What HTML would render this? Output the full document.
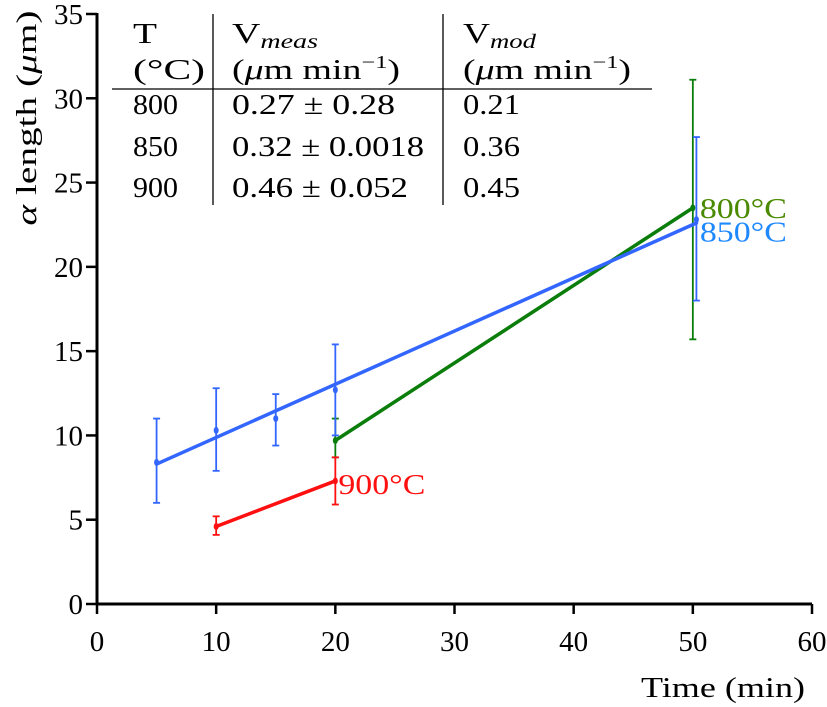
<!DOCTYPE html>
<html><head><meta charset="utf-8"><style>
html,body{margin:0;padding:0;background:#fff;}
svg{display:block;font-family:"Liberation Serif",serif;}
</style></head><body>
<svg id="chart" width="827" height="707">
  <g id="axes"></g>
  <g id="marks"></g>
  <g font-size="28" fill="#000">
    <line x1="213" y1="14" x2="213" y2="205" stroke="#000" stroke-width="1.3"/>
    <line x1="443" y1="14" x2="443" y2="205" stroke="#000" stroke-width="1.3"/>
    <line x1="112" y1="89" x2="652" y2="89" stroke="#000" stroke-width="1.3"/>
    <text x="133" y="43" textLength="24" lengthAdjust="spacingAndGlyphs">T</text>
    <text x="133" y="79" textLength="72" lengthAdjust="spacingAndGlyphs">(°C)</text>
    <text x="232" y="43" textLength="86" lengthAdjust="spacingAndGlyphs">V<tspan font-style="italic" font-size="20" dy="5">meas</tspan></text>
    <text x="232" y="79" textLength="168" lengthAdjust="spacingAndGlyphs">(<tspan font-style="italic">μ</tspan>m min<tspan font-size="18" dy="-11">−1</tspan><tspan dy="11">)</tspan></text>
    <text x="463" y="43" textLength="73" lengthAdjust="spacingAndGlyphs">V<tspan font-style="italic" font-size="20" dy="5">mod</tspan></text>
    <text x="463" y="79" textLength="168" lengthAdjust="spacingAndGlyphs">(<tspan font-style="italic">μ</tspan>m min<tspan font-size="18" dy="-11">−1</tspan><tspan dy="11">)</tspan></text>
    <text x="133" y="114" textLength="45" lengthAdjust="spacingAndGlyphs">800</text>
    <text x="232" y="114" textLength="163" lengthAdjust="spacingAndGlyphs">0.27 ± 0.28</text>
    <text x="463" y="114" textLength="57" lengthAdjust="spacingAndGlyphs">0.21</text>
    <text x="133" y="156" textLength="45" lengthAdjust="spacingAndGlyphs">850</text>
    <text x="232" y="156" textLength="192" lengthAdjust="spacingAndGlyphs">0.32 ± 0.0018</text>
    <text x="463" y="156" textLength="57" lengthAdjust="spacingAndGlyphs">0.36</text>
    <text x="133" y="197" textLength="45" lengthAdjust="spacingAndGlyphs">900</text>
    <text x="232" y="197" textLength="176" lengthAdjust="spacingAndGlyphs">0.46 ± 0.052</text>
    <text x="463" y="197" textLength="57" lengthAdjust="spacingAndGlyphs">0.45</text>
  </g>
  <text x="641" y="697" textLength="164" lengthAdjust="spacingAndGlyphs" font-size="29">Time (min)</text>
  <text transform="translate(36,118) rotate(-90)" text-anchor="middle" font-size="29" textLength="215" lengthAdjust="spacingAndGlyphs"><tspan font-style="italic">α</tspan> length (<tspan font-style="italic">μ</tspan>m)</text>
</svg>
<script>
const xTicks = [0,10,20,30,40,50,60];
const yTicks = [0,5,10,15,20,25,30,35];
const seriesNames = ["850°C","800°C","900°C"];
const seriesColors = ["#3366ff","#0a7d0a","#ff1010"];
const labelColors = ["#1e88ff","#4a8a00","#ff1010"];
const t850 = [5,10,15,20,50.3];
const v850 = [8.4,10.3,11.0,12.7,22.8];
const hi850 = [11.0,12.8,12.45,15.4,27.7];
const lo850 = [6.0,7.9,9.4,10.0,18.0];
const fit850 = [[5,8.3],[50.3,22.6]];
const t800 = [20,50];
const v800 = [9.7,23.5];
const hi800 = [11.0,31.1];
const lo800 = [8.7,15.7];
const fit800 = [[20,9.7],[50,23.5]];
const t900 = [10,20];
const v900 = [4.6,7.3];
const hi900 = [5.2,8.7];
const lo900 = [4.1,5.9];
const fit900 = [[10,4.6],[20,7.3]];

const X0=97, X1=812, Y0=604, Y1=14;
function sx(t){return X0+(t-0)/(60-0)*(X1-X0);}
function sy(v){return Y0-(v-0)/(35-0)*(Y0-Y1);}
const NS="http://www.w3.org/2000/svg";
function mk(tag,attrs,parent){const e=document.createElementNS(NS,tag);for(const k in attrs)e.setAttribute(k,attrs[k]);parent.appendChild(e);return e;}
const axes=document.getElementById('axes');
const marks=document.getElementById('marks');

let el=mk('line',{x1:X0,y1:Y1-1,x2:X0,y2:Y0+1.5,stroke:'#000','stroke-width':3},axes);


el=mk('line',{x1:X0-1.5,y1:Y0,x2:X1,y2:Y0,stroke:'#000','stroke-width':3},axes);


xTicks.forEach(t=>{
  const l=mk('line',{x1:sx(t),y1:Y0,x2:sx(t),y2:Y0+10,stroke:'#000','stroke-width':2.5},axes);
  
  
  const tx=mk('text',{x:sx(t),y:Y0+47,'text-anchor':'middle','font-size':29},axes);
  tx.textContent=t;
  
  
});
yTicks.forEach(v=>{
  const l=mk('line',{x1:X0-11,y1:sy(v),x2:X0,y2:sy(v),stroke:'#000','stroke-width':2.5},axes);
  
  
  const tx=mk('text',{x:X0-14,y:sy(v)+10,'text-anchor':'end','font-size':29},axes);
  tx.textContent=v;
  
  
});

function drawSeries(idx,ts,vs,his,los,fit,name){
  const c=seriesColors[idx];
  const g=mk('g',{},marks);
  
  
  ts.forEach((t,i)=>{
    const x=sx(t);
    const e=mk('line',{x1:x,y1:sy(his[i]),x2:x,y2:sy(los[i]),stroke:c,'stroke-width':1.8},g);
    
    
    [his[i],los[i]].forEach(v=>{
      const cap=mk('line',{x1:x-3.5,y1:sy(v),x2:x+3.5,y2:sy(v),stroke:c,'stroke-width':1.8},g);
      
      
    });
    const p=mk('ellipse',{cx:x,cy:sy(vs[i]),rx:2.5,ry:3.5,fill:c},g);
    
    
  });
  const f=mk('line',{x1:sx(fit[0][0]),y1:sy(fit[0][1]),x2:sx(fit[1][0]),y2:sy(fit[1][1]),stroke:c,'stroke-width':3.5,'stroke-linecap':'round'},g);
  
  
}
drawSeries(1,t800,v800,hi800,lo800,fit800,'800c');
drawSeries(2,t900,v900,hi900,lo900,fit900,'900c');
drawSeries(0,t850,v850,hi850,lo850,fit850,'850c');

function lab(text,x,y,color,name){
  const t=mk('text',{x:x,y:y,'font-size':28,fill:color,textLength:87,lengthAdjust:'spacingAndGlyphs'},marks);
  t.textContent=text;
  
  
}
lab(seriesNames[1],sx(50)+7,sy(v800[1])+10,labelColors[1],'label-800c');
lab(seriesNames[0],sx(50)+7,sy(v850[4])+22,labelColors[0],'label-850c');
lab(seriesNames[2],sx(20)+3,sy(v900[1])+13,labelColors[2],'label-900c');
</script>
</body></html>
